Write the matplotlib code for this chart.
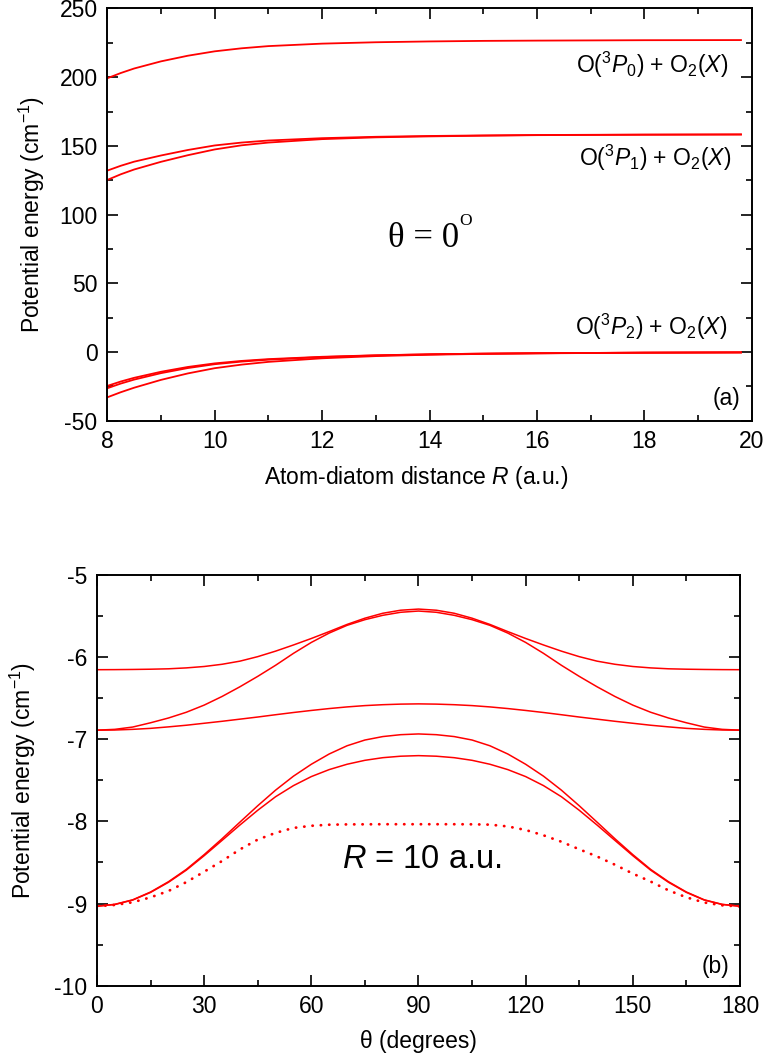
import matplotlib
matplotlib.use("Agg")
import matplotlib.pyplot as plt
from matplotlib.ticker import MultipleLocator

plt.rcParams['font.family'] = ['Liberation Sans', 'DejaVu Sans']
plt.rcParams['mathtext.fontset'] = 'custom'
plt.rcParams['mathtext.rm'] = 'Liberation Sans'
plt.rcParams['mathtext.it'] = 'Liberation Sans:italic'
plt.rcParams['mathtext.bf'] = 'Liberation Sans:bold'
plt.rcParams['axes.unicode_minus'] = False

# ---- (a) potential energy vs atom-diatom distance, theta = 0 ----
R = [8, 8.25, 8.5, 9, 9.5, 10, 10.5, 11, 12, 13, 14, 15, 16, 18, 19.8]
P0 = [199.2, 203.0, 206.3, 211.5, 215.6, 218.8, 221.0, 222.6, 224.4, 225.4, 226.0, 226.4, 226.6, 226.9, 227.0]
P1a = [132.0, 135.5, 138.5, 143.0, 147.0, 150.3, 152.4, 153.9, 155.6, 156.6, 157.2, 157.6, 157.9, 158.2, 158.3]
P1b = [125.2, 129.3, 132.8, 138.4, 143.2, 147.4, 150.4, 152.4, 154.9, 156.2, 156.9, 157.4, 157.8, 158.1, 158.3]
P2a = [-24.7, -21.5, -18.8, -14.4, -10.9, -8.3, -6.5, -5.2, -3.5, -2.4, -1.7, -1.2, -0.9, -0.5, -0.3]
P2b = [-26.4, -23.0, -20.1, -15.4, -11.7, -8.9, -7.0, -5.6, -3.7, -2.5, -1.7, -1.2, -0.9, -0.5, -0.3]
P2c = [-33.0, -29.3, -26.0, -20.3, -15.6, -11.8, -9.2, -7.2, -4.6, -3.0, -2.0, -1.4, -1.0, -0.5, -0.3]

# ---- (b) angular dependence at R = 10 a.u. ----
THETA = [0, 5, 10, 15, 20, 25, 30, 35, 40, 45, 50, 55, 60, 65, 70, 75, 80, 85, 90,
         95, 100, 105, 110, 115, 120, 125, 130, 135, 140, 145, 150, 155, 160, 165, 170, 175, 180]
T1 = [-6.154, -6.153, -6.151, -6.148, -6.143, -6.132, -6.115, -6.088, -6.050, -5.995,
      -5.928, -5.853, -5.774, -5.690, -5.603, -5.527, -5.467, -5.430, -5.416,
      -5.430, -5.467, -5.527, -5.603, -5.690, -5.774, -5.853, -5.928, -5.995, -6.050,
      -6.088, -6.115, -6.132, -6.143, -6.148, -6.151, -6.153, -6.154]
T2 = [-6.890, -6.880, -6.852, -6.800, -6.742, -6.672, -6.585, -6.480, -6.362, -6.235,
      -6.100, -5.955, -5.822, -5.708, -5.614, -5.545, -5.492, -5.455, -5.440,
      -5.455, -5.492, -5.545, -5.614, -5.708, -5.822, -5.955, -6.100, -6.235, -6.362,
      -6.480, -6.585, -6.672, -6.742, -6.800, -6.852, -6.880, -6.890]
T3 = [-6.890, -6.888, -6.880, -6.868, -6.850, -6.830, -6.806, -6.782, -6.756, -6.730,
      -6.702, -6.675, -6.650, -6.627, -6.607, -6.591, -6.580, -6.573, -6.570,
      -6.573, -6.580, -6.591, -6.607, -6.627, -6.650, -6.675, -6.702, -6.730, -6.756,
      -6.782, -6.806, -6.830, -6.850, -6.868, -6.880, -6.888, -6.890]
L1 = [-9.033, -9.010, -8.955, -8.860, -8.735, -8.585, -8.405, -8.212, -8.010, -7.810,
      -7.620, -7.450, -7.305, -7.180, -7.080, -7.010, -6.968, -6.945, -6.936,
      -6.945, -6.968, -7.010, -7.080, -7.180, -7.305, -7.450, -7.620, -7.810, -8.010,
      -8.212, -8.405, -8.585, -8.735, -8.860, -8.955, -9.010, -9.033]
L2 = [-9.033, -9.012, -8.958, -8.865, -8.742, -8.594, -8.418, -8.232, -8.045, -7.865,
      -7.700, -7.565, -7.455, -7.370, -7.305, -7.257, -7.225, -7.207, -7.200,
      -7.207, -7.225, -7.257, -7.305, -7.370, -7.455, -7.565, -7.700, -7.865, -8.045,
      -8.232, -8.418, -8.594, -8.742, -8.865, -8.958, -9.012, -9.033]
D = [-9.033, -9.018, -8.985, -8.925, -8.848, -8.740, -8.613, -8.483, -8.342, -8.222,
     -8.140, -8.080, -8.054, -8.041, -8.037, -8.036, -8.035, -8.035, -8.035,
     -8.035, -8.035, -8.036, -8.040, -8.062, -8.105, -8.170, -8.248, -8.340, -8.428,
     -8.528, -8.636, -8.733, -8.840, -8.925, -8.988, -9.022, -9.036]

RED = '#ff0000'
FS = 16.5

fig = plt.figure(figsize=(7.68, 10.57), dpi=100)
ax1 = fig.add_axes([0.1397, 0.6020, 0.8391, 0.3900])
ax2 = fig.add_axes([0.1263, 0.0675, 0.8372, 0.3886])


def style(ax):
    for s in ax.spines.values():
        s.set_linewidth(1.4)
    ax.tick_params(which='both', direction='in', top=True, right=True,
                   labelsize=FS, width=1.2, pad=7)
    ax.tick_params(which='major', length=8)
    ax.tick_params(which='minor', length=4)


# panel (a)
for y in (P0, P1a, P1b, P2a, P2b, P2c):
    ax1.plot(R, y, color=RED, lw=1.3)
ax1.set_xlim(8, 20)
ax1.set_ylim(-50, 250)
ax1.xaxis.set_major_locator(MultipleLocator(2))
ax1.xaxis.set_minor_locator(MultipleLocator(1))
ax1.yaxis.set_major_locator(MultipleLocator(50))
ax1.yaxis.set_minor_locator(MultipleLocator(25))
style(ax1)
ax1.set_xlabel(r'Atom-diatom distance $R$ (a.u.)', fontsize=FS)
ax1.set_ylabel(r'Potential energy (cm$^{-1}$)', fontsize=FS)
ax1.xaxis.set_label_coords(0.48, -0.105)
ax1.yaxis.set_label_coords(-0.093, 0.5)

ax1.text(19.56, 203.3, r'O($^{3}P_{0}$) + O$_{2}$($X$)', ha='right', va='baseline', fontsize=FS)
ax1.text(19.61, 135.4, r'O($^{3}P_{1}$) + O$_{2}$($X$)', ha='right', va='baseline', fontsize=FS)
ax1.text(19.54, 12.4, r'O($^{3}P_{2}$) + O$_{2}$($X$)', ha='right', va='baseline', fontsize=FS)
ax1.text(13.23, 76.6, 'θ = 0', ha='left', va='baseline', fontsize=25,
         family=['Liberation Serif', 'DejaVu Serif'])
ax1.text(14.55, 95.3, 'O', ha='left', va='center', fontsize=12.5,
         family=['Liberation Serif', 'DejaVu Serif'])
ax1.text(0.983, 0.038, '(a)', ha='right', va='baseline', fontsize=FS, transform=ax1.transAxes)

# panel (b)
for y in (T1, T2, T3, L1, L2):
    ax2.plot(THETA, y, color=RED, lw=1.1)
ax2.plot(THETA, D, color=RED, lw=2.0, linestyle=(0, (0.1, 2.9)), dash_capstyle='round')
ax2.set_xlim(0, 180)
ax2.set_ylim(-10, -5)
ax2.xaxis.set_major_locator(MultipleLocator(30))
ax2.xaxis.set_minor_locator(MultipleLocator(15))
ax2.yaxis.set_major_locator(MultipleLocator(1))
ax2.yaxis.set_minor_locator(MultipleLocator(0.5))
style(ax2)
ax2.set_xlabel('θ (degrees)', fontsize=FS)
ax2.set_ylabel(r'Potential energy (cm$^{-1}$)', fontsize=FS)
ax2.xaxis.set_label_coords(0.5, -0.108)
ax2.yaxis.set_label_coords(-0.092, 0.5)
ax2.text(90.8, -8.567, r'$R$ = 10 a.u.', ha='center', va='baseline', fontsize=23.5)
ax2.text(0.984, 0.030, '(b)', ha='right', va='baseline', fontsize=FS, transform=ax2.transAxes)

fig.savefig('out.png', dpi=100)
